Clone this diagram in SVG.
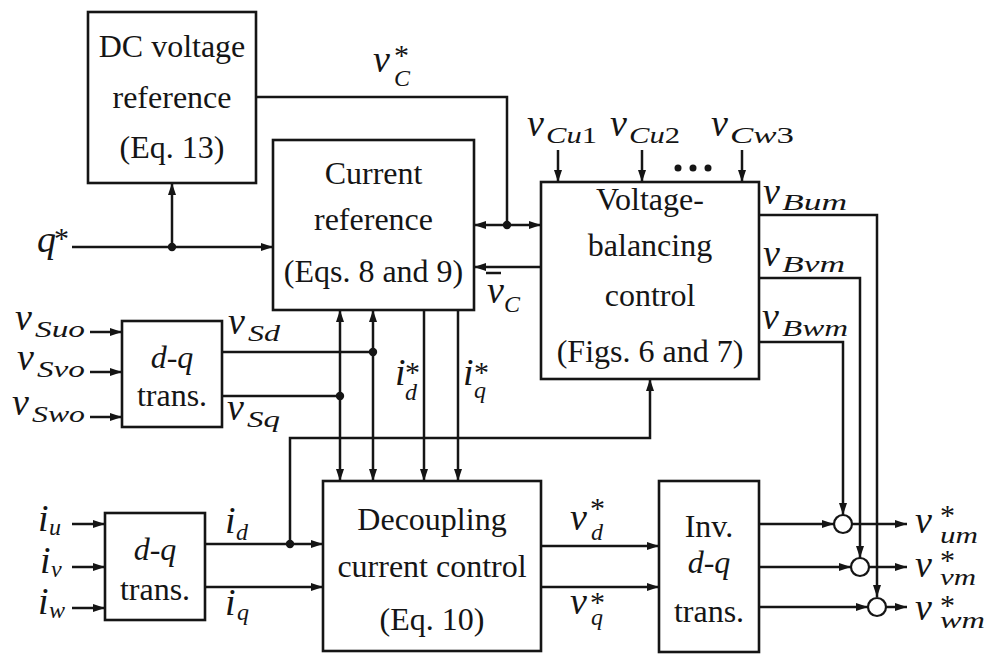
<svg xmlns="http://www.w3.org/2000/svg" width="990" height="662" viewBox="0 0 990 662" font-family="Liberation Serif, Tinos, Times New Roman, serif">
<style>
.box{fill:#fff;stroke:#151515;stroke-width:2.6}
.ln{fill:none;stroke:#151515;stroke-width:2.5}
.ar{marker-end:url(#ah)}
.ar2{marker-start:url(#ah);marker-end:url(#ah)}
.dot{fill:#151515}
text{fill:#151515}
.t{font-size:32px;text-anchor:middle}
.it{font-style:italic}
.m{font-style:italic;font-size:38px}
.s{font-style:italic;font-size:24px}
.up{font-style:normal}
.st{font-size:30px}
.sum{fill:#fff;stroke:#151515;stroke-width:2.2}
</style>
<defs>
<marker id="ah" markerUnits="userSpaceOnUse" markerWidth="12" markerHeight="8" refX="12" refY="4" orient="auto-start-reverse" viewBox="0 0 12 8">
<path d="M0,0 L12,4 L0,8 z" fill="#151515"/>
</marker>
</defs>
<rect width="990" height="662" fill="#fff"/>

<g id="connectors">
<polyline class="ln" points="256,97 507,97 507,225"/>
<line class="ln ar2" x1="474" y1="225" x2="541" y2="225"/>
<line class="ln ar" x1="541" y1="267" x2="474" y2="267"/>
<line class="ln ar" x1="72" y1="247" x2="273" y2="247"/>
<line class="ln ar" x1="172" y1="247" x2="172" y2="183"/>
<line class="ln ar" x1="558" y1="150" x2="558" y2="182"/>
<line class="ln ar" x1="642" y1="150" x2="642" y2="182"/>
<line class="ln ar" x1="742" y1="150" x2="742" y2="182"/>
<polyline class="ln ar" points="759,215 877,215 877,597"/>
<polyline class="ln ar" points="759,278 860,278 860,558"/>
<polyline class="ln ar" points="759,342 843,342 843,515"/>
<line class="ln ar" x1="90" y1="332" x2="122" y2="332"/>
<line class="ln ar" x1="90" y1="372" x2="122" y2="372"/>
<line class="ln ar" x1="90" y1="417" x2="122" y2="417"/>
<line class="ln" x1="222" y1="352" x2="373" y2="352"/>
<line class="ln" x1="222" y1="396" x2="340" y2="396"/>
<line class="ln ar2" x1="340" y1="310" x2="340" y2="481"/>
<line class="ln ar2" x1="373" y1="310" x2="373" y2="481"/>
<line class="ln ar" x1="424" y1="310" x2="424" y2="481"/>
<line class="ln ar" x1="458" y1="310" x2="458" y2="481"/>
<polyline class="ln ar" points="290,544 290,438 650,438 650,379"/>
<line class="ln ar" x1="72" y1="524" x2="105" y2="524"/>
<line class="ln ar" x1="72" y1="567" x2="105" y2="567"/>
<line class="ln ar" x1="72" y1="608" x2="105" y2="608"/>
<line class="ln ar" x1="205" y1="544" x2="323" y2="544"/>
<line class="ln ar" x1="205" y1="587" x2="323" y2="587"/>
<line class="ln ar" x1="541" y1="546" x2="659" y2="546"/>
<line class="ln ar" x1="541" y1="587" x2="659" y2="587"/>
<line class="ln ar" x1="759" y1="524" x2="834" y2="524"/>
<line class="ln ar" x1="759" y1="567" x2="851" y2="567"/>
<line class="ln ar" x1="759" y1="607" x2="868" y2="607"/>
<line class="ln ar" x1="852" y1="524" x2="907" y2="524"/>
<line class="ln ar" x1="869" y1="567" x2="907" y2="567"/>
<line class="ln ar" x1="886" y1="607" x2="907" y2="607"/>
<circle class="dot" cx="507" cy="225" r="4.2"/>
<circle class="dot" cx="172" cy="247" r="4.2"/>
<circle class="dot" cx="373" cy="352" r="4.2"/>
<circle class="dot" cx="340" cy="396" r="4.2"/>
<circle class="dot" cx="290" cy="544" r="4.2"/>
</g>

<g id="dc-voltage-reference">
<rect class="box" x="88" y="12" width="168" height="171"/>
<text class="t" x="172" y="57">DC voltage</text>
<text class="t" x="172" y="108">reference</text>
<text class="t" x="172" y="158">(Eq. 13)</text>
</g>

<g id="current-reference">
<rect class="box" x="273" y="140" width="201" height="170"/>
<text class="t" x="373.5" y="184">Current</text>
<text class="t" x="373.5" y="230">reference</text>
<text class="t" x="373.5" y="282">(Eqs. 8 and 9)</text>
</g>

<g id="voltage-balancing-control">
<rect class="box" x="541" y="182" width="218" height="197"/>
<text class="t" x="650" y="210">Voltage-</text>
<text class="t" x="650" y="256">balancing</text>
<text class="t" x="650" y="306">control</text>
<text class="t" x="650" y="362">(Figs. 6 and 7)</text>
</g>

<g id="dq-trans-voltage">
<rect class="box" x="122" y="321" width="100" height="106"/>
<text class="t" x="172" y="368"><tspan class="it">d</tspan>-<tspan class="it">q</tspan></text>
<text class="t" x="172" y="406">trans.</text>
</g>

<g id="dq-trans-current">
<rect class="box" x="105" y="513" width="100" height="107"/>
<text class="t" x="155" y="560"><tspan class="it">d</tspan>-<tspan class="it">q</tspan></text>
<text class="t" x="155" y="600">trans.</text>
</g>

<g id="decoupling-current-control">
<rect class="box" x="323" y="481" width="218" height="170"/>
<text class="t" x="432" y="530">Decoupling</text>
<text class="t" x="432" y="577">current control</text>
<text class="t" x="432" y="630">(Eq. 10)</text>
</g>

<g id="inv-dq-trans">
<rect class="box" x="659" y="481" width="100" height="171"/>
<text class="t" x="709" y="537">Inv.</text>
<text class="t" x="709" y="573"><tspan class="it">d</tspan>-<tspan class="it">q</tspan></text>
<text class="t" x="709" y="622">trans.</text>
</g>

<g id="sum-u"><circle class="sum" cx="843" cy="524" r="9"/></g>
<g id="sum-v"><circle class="sum" cx="860" cy="567" r="9"/></g>
<g id="sum-w"><circle class="sum" cx="877" cy="607" r="9"/></g>

<g id="labels">
<text class="m" x="37" y="252">q</text><text class="st" x="54" y="248">*</text>
<text class="m" x="373" y="72">v</text><text class="st" x="394" y="65">*</text><text class="s" x="394" y="86">C</text>

<text class="m" x="527" y="136">v</text><text class="s" x="546" y="143" textLength="51" lengthAdjust="spacingAndGlyphs">Cu<tspan class="up">1</tspan></text>
<text class="m" x="610" y="136">v</text><text class="s" x="629" y="143" textLength="51" lengthAdjust="spacingAndGlyphs">Cu<tspan class="up">2</tspan></text>
<text class="m" x="711" y="136">v</text><text class="s" x="730" y="143" textLength="64" lengthAdjust="spacingAndGlyphs">Cw<tspan class="up">3</tspan></text>
<circle class="dot" cx="678" cy="168" r="3.5"/><circle class="dot" cx="693" cy="168" r="3.5"/><circle class="dot" cx="708" cy="168" r="3.5"/>

<text class="m" x="763" y="204">v</text><text class="s" x="782" y="210" textLength="65" lengthAdjust="spacingAndGlyphs">Bum</text>
<text class="m" x="763" y="266">v</text><text class="s" x="782" y="272" textLength="63" lengthAdjust="spacingAndGlyphs">Bvm</text>
<text class="m" x="762" y="329">v</text><text class="s" x="782" y="336" textLength="66" lengthAdjust="spacingAndGlyphs">Bwm</text>

<text class="m" x="487" y="303">v</text><line class="ln" x1="486" y1="273" x2="501" y2="273"/><text class="s" x="504" y="312">C</text>

<text class="m" x="15" y="330">v</text><text class="s" x="35" y="337" textLength="50" lengthAdjust="spacingAndGlyphs">Suo</text>
<text class="m" x="17" y="370">v</text><text class="s" x="37" y="377" textLength="48" lengthAdjust="spacingAndGlyphs">Svo</text>
<text class="m" x="12" y="415">v</text><text class="s" x="32" y="422" textLength="53" lengthAdjust="spacingAndGlyphs">Swo</text>
<text class="m" x="228" y="334">v</text><text class="s" x="248" y="341" textLength="32" lengthAdjust="spacingAndGlyphs">Sd</text>
<text class="m" x="227" y="420">v</text><text class="s" x="247" y="427" textLength="33" lengthAdjust="spacingAndGlyphs">Sq</text>

<text class="m" x="38" y="531">i</text><text class="s" x="49" y="535">u</text>
<text class="m" x="40" y="573">i</text><text class="s" x="51" y="577">v</text>
<text class="m" x="38" y="614">i</text><text class="s" x="49" y="618">w</text>
<text class="m" x="225" y="533">i</text><text class="s" x="236" y="540">d</text>
<text class="m" x="225" y="615">i</text><text class="s" x="237" y="620">q</text>

<text class="m" x="395" y="385">i</text><text class="st" x="405" y="382">*</text><text class="s" x="405" y="400">d</text>
<text class="m" x="463" y="385">i</text><text class="st" x="474" y="382">*</text><text class="s" x="474" y="398">q</text>

<text class="m" x="570" y="530">v</text><text class="st" x="590" y="518">*</text><text class="s" x="591" y="540">d</text>
<text class="m" x="570" y="614">v</text><text class="st" x="590" y="612">*</text><text class="s" x="591" y="625">q</text>

<text class="m" x="915" y="533">v</text><text class="st" x="940" y="525">*</text><text class="s" x="940" y="543" textLength="38" lengthAdjust="spacingAndGlyphs">um</text>
<text class="m" x="915" y="577">v</text><text class="st" x="940" y="570">*</text><text class="s" x="940" y="585" textLength="36" lengthAdjust="spacingAndGlyphs">vm</text>
<text class="m" x="915" y="620">v</text><text class="st" x="940" y="615">*</text><text class="s" x="940" y="628" textLength="45" lengthAdjust="spacingAndGlyphs">wm</text>
</g>
</svg>
